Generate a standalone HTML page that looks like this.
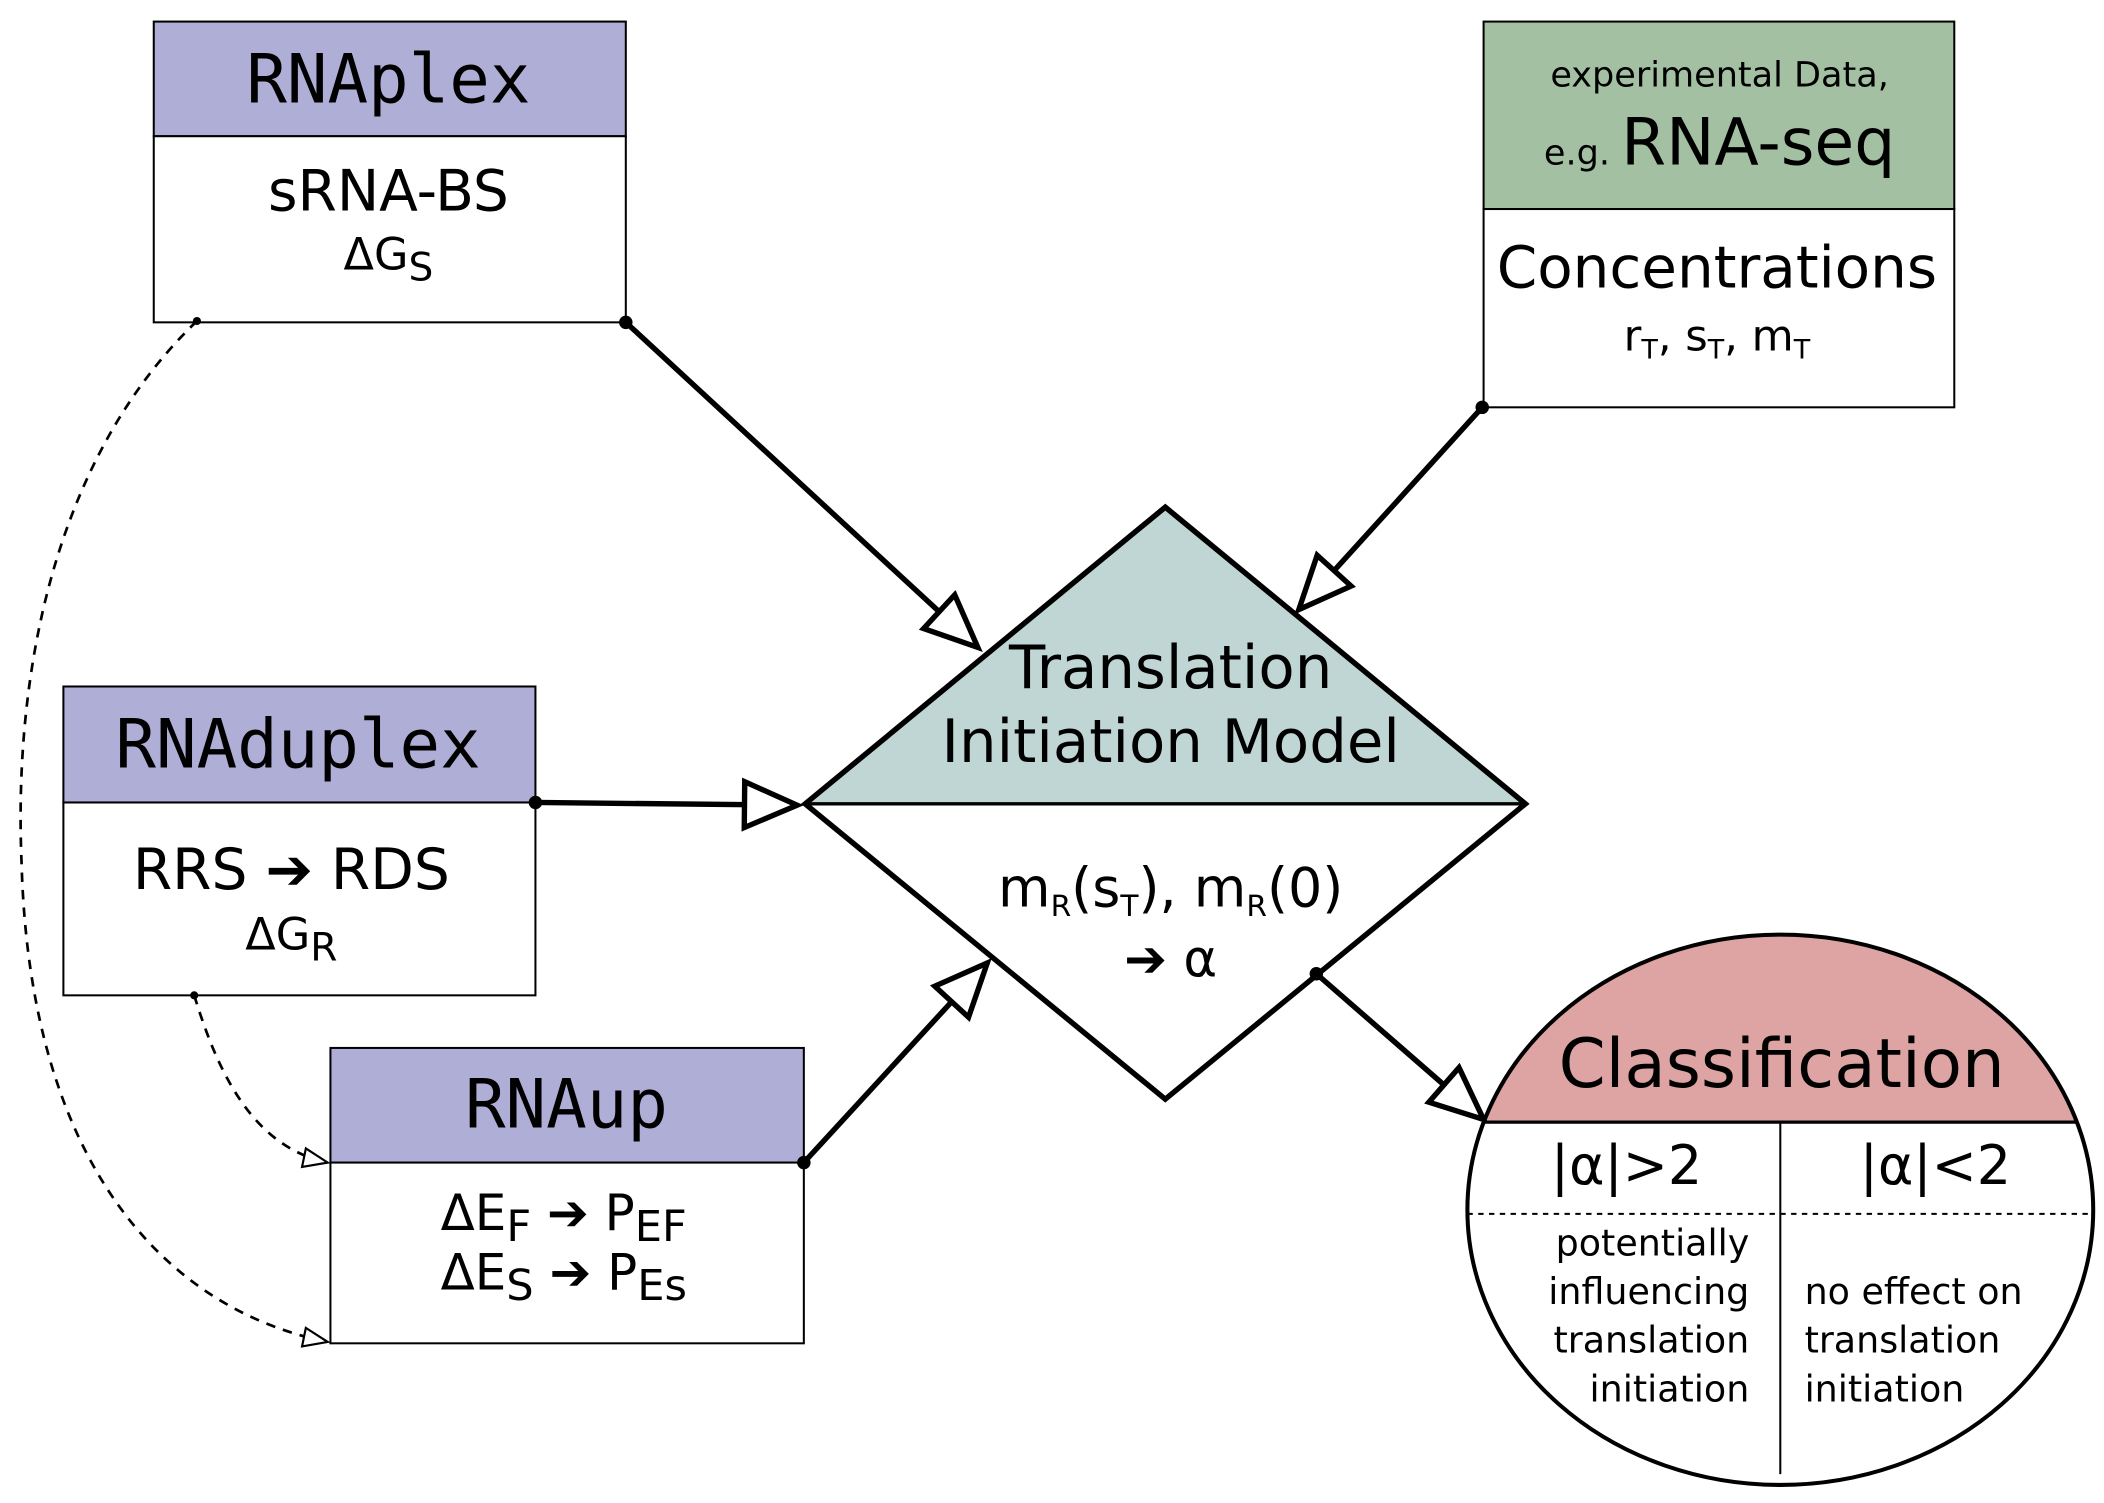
<!DOCTYPE html>
<html><head><meta charset="utf-8"><style>
html,body{margin:0;padding:0;background:#fff}
svg{display:block}
text{font-family:"DejaVu Sans","Liberation Sans",sans-serif;fill:#000}
.m{font-family:"DejaVu Sans Mono","Liberation Mono",monospace}
</style></head><body>
<svg width="2104" height="1503" viewBox="0 0 1560 1114.4" preserveAspectRatio="none" xmlns="http://www.w3.org/2000/svg">
<defs>
<marker id="h" markerUnits="userSpaceOnUse" markerWidth="50" markerHeight="50" refX="42" refY="20" orient="auto">
<path d="M3,3 L42,20 L3,37 Z" fill="#fff" stroke="#000" stroke-width="4"/>
</marker>
<marker id="hs" markerUnits="userSpaceOnUse" markerWidth="24" markerHeight="24" refX="20" refY="10" orient="auto">
<path d="M2,3 L20,10 L2,17 Z" fill="#fff" stroke="#000" stroke-width="1.6"/>
</marker>
</defs>

<!-- RNAplex -->
<rect x="114" y="16" width="350" height="85" fill="#afaed7" stroke="#000" stroke-width="1.5"/>
<rect x="114" y="101" width="350" height="138" fill="#fff" stroke="#000" stroke-width="1.5"/>
<text x="288" y="76" font-size="50" text-anchor="middle" class="m">RNAplex</text>
<text x="288" y="156" font-size="42" text-anchor="middle">sRNA-BS</text>
<text x="288" y="200" font-size="33" text-anchor="middle">ΔG<tspan font-size="29" dy="8">S</tspan></text>

<!-- experimental -->
<rect x="1100" y="16" width="349" height="139" fill="#a3c1a2" stroke="#000" stroke-width="1.5"/>
<rect x="1100" y="155" width="349" height="147" fill="#fff" stroke="#000" stroke-width="1.5"/>
<text x="1275" y="64" font-size="26" text-anchor="middle">experimental Data,</text>
<text x="1275" y="122" text-anchor="middle"><tspan font-size="26">e.g. </tspan><tspan font-size="48">RNA-seq</tspan></text>
<text x="1273" y="213" font-size="43" text-anchor="middle">Concentrations</text>
<text x="1273" y="260" font-size="32" text-anchor="middle">r<tspan font-size="20" dy="6">T</tspan><tspan dy="-6">, s</tspan><tspan font-size="20" dy="6">T</tspan><tspan dy="-6">, m</tspan><tspan font-size="20" dy="6">T</tspan></text>

<!-- RNAduplex -->
<rect x="47" y="509" width="350" height="86" fill="#afaed7" stroke="#000" stroke-width="1.5"/>
<rect x="47" y="595" width="350" height="143" fill="#fff" stroke="#000" stroke-width="1.5"/>
<text x="221" y="569" font-size="50" text-anchor="middle" class="m">RNAduplex</text>
<text x="216" y="659" font-size="42" text-anchor="middle">RRS ➔ RDS</text>
<text x="216" y="704" font-size="33" text-anchor="middle">ΔG<tspan font-size="29" dy="8">R</tspan></text>

<!-- RNAup -->
<rect x="245" y="777" width="351" height="85" fill="#afaed7" stroke="#000" stroke-width="1.5"/>
<rect x="245" y="862" width="351" height="134" fill="#fff" stroke="#000" stroke-width="1.5"/>
<text x="420" y="836" font-size="50" text-anchor="middle" class="m">RNAup</text>
<text x="418" y="912" font-size="37" text-anchor="middle">ΔE<tspan font-size="32" dy="8">F</tspan><tspan dy="-8"> ➔ P</tspan><tspan font-size="32" dy="8">EF</tspan></text>
<text x="418" y="956" font-size="37" text-anchor="middle">ΔE<tspan font-size="32" dy="8">S</tspan><tspan dy="-8"> ➔ P</tspan><tspan font-size="32" dy="8">Es</tspan></text>

<!-- Diamond -->
<polygon points="864,376 1131,596 597,596" fill="#c0d6d4"/>
<polygon points="864,376 1131,596 864,815 597,596" fill="none" stroke="#000" stroke-width="4"/>
<line x1="597" y1="596" x2="1131" y2="596" stroke="#000" stroke-width="2.5"/>
<text x="868" y="510" font-size="44" text-anchor="middle">Translation</text>
<text x="868" y="565" font-size="44" text-anchor="middle">Initiation Model</text>
<text x="868" y="672" font-size="40" text-anchor="middle">m<tspan font-size="22" dy="7">R</tspan><tspan dy="-7">(s</tspan><tspan font-size="22" dy="7">T</tspan><tspan dy="-7">), m</tspan><tspan font-size="22" dy="7">R</tspan><tspan dy="-7">(0)</tspan></text>
<text x="868" y="724" font-size="38" text-anchor="middle">➔ α</text>

<!-- Classification ellipse -->
<clipPath id="cp"><ellipse cx="1320" cy="897" rx="232" ry="204"/></clipPath>
<ellipse cx="1320" cy="897" rx="232" ry="204" fill="#fff"/>
<rect x="1080" y="690" width="480" height="142" fill="#dea3a3" clip-path="url(#cp)"/>
<line x1="1080" y1="832" x2="1560" y2="832" stroke="#000" stroke-width="2.5" clip-path="url(#cp)"/>
<line x1="1320" y1="832" x2="1320" y2="1093" stroke="#000" stroke-width="1.5"/>
<line x1="1080" y1="900" x2="1560" y2="900" stroke="#000" stroke-width="1.5" stroke-dasharray="4,4" clip-path="url(#cp)"/>
<ellipse cx="1320" cy="897" rx="232" ry="204" fill="none" stroke="#000" stroke-width="3"/>
<text x="1321" y="806" font-size="50" text-anchor="middle">Classification</text>
<text x="1206" y="878" font-size="40" text-anchor="middle">|α|&gt;2</text>
<text x="1435" y="878" font-size="40" text-anchor="middle">|α|&lt;2</text>
<g font-size="27" text-anchor="end">
<text x="1297" y="931">potentially</text>
<text x="1297" y="967">influencing</text>
<text x="1297" y="1003">translation</text>
<text x="1297" y="1039">initiation</text>
</g>
<g font-size="27">
<text x="1338" y="967">no effect on</text>
<text x="1338" y="1003">translation</text>
<text x="1338" y="1039">initiation</text>
</g>

<!-- Arrows -->
<g stroke="#000" stroke-width="4" fill="none">
<line x1="464" y1="239" x2="725" y2="480" marker-end="url(#h)"/>
<line x1="1099" y1="302" x2="963" y2="452" marker-end="url(#h)"/>
<line x1="397" y1="595" x2="591" y2="597" marker-end="url(#h)"/>
<line x1="596" y1="862" x2="732" y2="714" marker-end="url(#h)"/>
<line x1="976" y1="722" x2="1100" y2="830" marker-end="url(#h)"/>
</g>
<g fill="#000">
<circle cx="464" cy="239" r="5"/><circle cx="1099" cy="302" r="5"/>
<circle cx="397" cy="595" r="5"/><circle cx="596" cy="862" r="5"/>
<circle cx="976" cy="722" r="5"/>
<circle cx="146" cy="238" r="3"/><circle cx="144" cy="738" r="3"/>
</g>
<g stroke="#000" stroke-width="2" fill="none" stroke-dasharray="7,6">
<path d="M146,238 C40,340 10,500 16,640 C22,860 120,970 243,995" marker-end="url(#hs)"/>
<path d="M144,738 C160,790 185,850 243,862" marker-end="url(#hs)"/>
</g>
</svg>
</body></html>
